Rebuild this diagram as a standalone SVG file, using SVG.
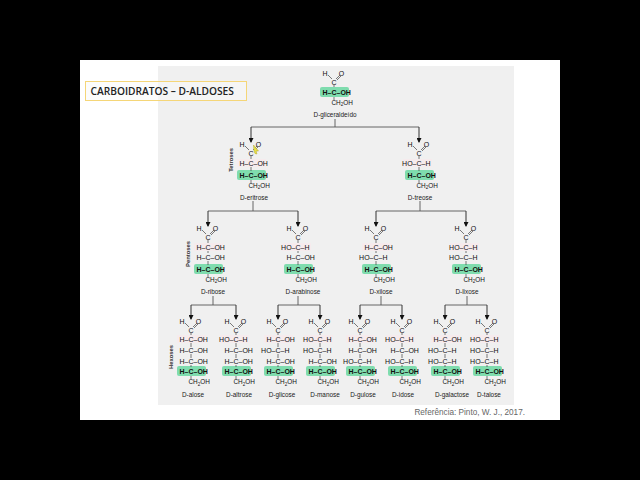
<svg xmlns="http://www.w3.org/2000/svg" width="640" height="480" viewBox="0 0 640 480">
<style>
text{font-family:"Liberation Sans",Arial,sans-serif;font-size:7px;fill:#111}
.b{font-weight:700;fill:#111}
.m{text-anchor:middle}
.n{font-size:6.400px;text-anchor:middle;fill:#222}
.s{font-size:6.400px}
.sub{font-size:4.500px}
.g{fill:#7fdcae}
.p{fill:#f6ebed}
.sk{fill:none;stroke:#444;stroke-width:.7}
.c{fill:none;stroke:#555;stroke-width:.9}
.a{fill:none;stroke:#333;stroke-width:1;marker-end:url(#ar)}
.v{font-size:5.800px;font-weight:700;text-anchor:middle;fill:#333}
</style>
<defs>
<marker id="ar" markerWidth="5" markerHeight="5" refX="4" refY="2.500" orient="auto" markerUnits="userSpaceOnUse"><path d="M0 0L5 2.500L0 5Z" fill="#111"/></marker>
<path id="h" class="sk" d="M-6 2L-2 6M2 6L6 2M3 7L7 3M0 12V15"/>
</defs>
<rect width="640" height="480" fill="#000"/>
<rect x="80" y="60" width="480" height="360" fill="#fff"/>
<rect x="158" y="66" width="356" height="339" fill="#f0f0f0"/>
<g id="titulo"><rect x="85.500" y="81.500" width="161" height="19" fill="#fafafa" fill-opacity=".5" stroke="#f5d678" stroke-width="1"/><text x="90.500" y="94.500" style="font-family:'Open Sans',sans-serif;font-size:10.200px;font-weight:600;fill:#222">CARBOIDRATOS – D-ALDOSES</text></g>
<g id="conectores">
<path class="c" d="M335 119V127M251 127H419M253 201V211M208 211H298M420 201V211M376 211H466M213 296V305M191 305H236M298 296V305M278 305H320M381 296V305M360 305H402M467 296V305M445 305H487"/>
<path class="a" d="M251 127V142"/><path class="a" d="M419 127V142"/><path class="a" d="M208 211V226"/><path class="a" d="M298 211V226"/><path class="a" d="M376 211V226"/><path class="a" d="M466 211V226"/><path class="a" d="M191 305V319"/><path class="a" d="M236 305V319"/><path class="a" d="M278 305V319"/><path class="a" d="M320 305V319"/><path class="a" d="M360 305V319"/><path class="a" d="M402 305V319"/><path class="a" d="M445 305V319"/><path class="a" d="M487 305V319"/>
</g>
<text class="v" transform="translate(233 160) rotate(-90)">Tetroses</text>
<text class="v" transform="translate(190 254) rotate(-90)">Pentoses</text>
<text class="v" transform="translate(173 357) rotate(-90)">Hexoses</text>

<g id="gliceraldeido" transform="translate(334 73)"><use href="#h"/><text x="-9" y="2.500" class="m">H</text><text x="7.500" y="2.500" class="m">O</text><text y="11.500" class="m">C</text><rect x="-14" y="14" width="29" height="10" rx="2" class="g"/><text x="-11.500" y="21.500" class="b">H–C–OH</text><path class="sk" d="M0 24V27"/><text x="-2.500" y="31.500" class="s">CH<tspan class="sub" dy="1.500">2</tspan><tspan dy="-1.500">OH</tspan></text><text x="1" y="43.500" class="n">D-gliceraldeído</text></g>

<g id="eritrose" transform="translate(251 144)"><use href="#h"/><text x="-9" y="2.500" class="m">H</text><text x="7.500" y="2.500" class="m">O</text><text y="11.500" class="m">C</text><rect x="-14" y="15" width="29" height="8" class="p"/><text x="-11.500" y="21.500">H–C–OH</text><rect x="-14" y="26" width="29" height="10" rx="2" class="g"/><text x="-11.500" y="33.500" class="b">H–C–OH</text><path class="sk" d="M0 23V27M0 36V39"/><text x="-2.500" y="43.500" class="s">CH<tspan class="sub" dy="1.500">2</tspan><tspan dy="-1.500">OH</tspan></text><text x="3" y="55.500" class="n">D-eritrose</text></g>
<g id="treose" transform="translate(419 144)"><use href="#h"/><text x="-9" y="2.500" class="m">H</text><text x="7.500" y="2.500" class="m">O</text><text y="11.500" class="m">C</text><rect x="-16" y="15" width="29" height="8" class="p"/><text x="-16.900" y="21.500">HO–C–H</text><rect x="-14" y="26" width="29" height="10" rx="2" class="g"/><text x="-11.500" y="33.500" class="b">H–C–OH</text><path class="sk" d="M0 23V27M0 36V39"/><text x="-2.500" y="43.500" class="s">CH<tspan class="sub" dy="1.500">2</tspan><tspan dy="-1.500">OH</tspan></text><text x="1" y="55.500" class="n">D-treose</text></g>

<g id="ribose" transform="translate(208 228)"><use href="#h"/><text x="-9" y="2.500" class="m">H</text><text x="7.500" y="2.500" class="m">O</text><text y="11.500" class="m">C</text><rect x="-14" y="15" width="29" height="8" class="p"/><text x="-11.500" y="21.500">H–C–OH</text><text x="-11.500" y="31.500">H–C–OH</text><rect x="-14" y="36" width="29" height="10" rx="2" class="g"/><text x="-11.500" y="43.500" class="b">H–C–OH</text><path class="sk" d="M0 23V25M0 33V37M0 46V49"/><text x="-2.500" y="53.500" class="s">CH<tspan class="sub" dy="1.500">2</tspan><tspan dy="-1.500">OH</tspan></text><text x="5" y="65.500" class="n">D-ribose</text></g>
<g id="arabinose" transform="translate(298 228)"><use href="#h"/><text x="-9" y="2.500" class="m">H</text><text x="7.500" y="2.500" class="m">O</text><text y="11.500" class="m">C</text><rect x="-16" y="15" width="29" height="8" class="p"/><text x="-16.900" y="21.500">HO–C–H</text><text x="-11.500" y="31.500">H–C–OH</text><rect x="-14" y="36" width="29" height="10" rx="2" class="g"/><text x="-11.500" y="43.500" class="b">H–C–OH</text><path class="sk" d="M0 23V25M0 33V37M0 46V49"/><text x="-2.500" y="53.500" class="s">CH<tspan class="sub" dy="1.500">2</tspan><tspan dy="-1.500">OH</tspan></text><text x="5" y="65.500" class="n">D-arabinose</text></g>
<g id="xilose" transform="translate(376 228)"><use href="#h"/><text x="-9" y="2.500" class="m">H</text><text x="7.500" y="2.500" class="m">O</text><text y="11.500" class="m">C</text><rect x="-14" y="15" width="29" height="8" class="p"/><text x="-11.500" y="21.500">H–C–OH</text><text x="-16.900" y="31.500">HO–C–H</text><rect x="-14" y="36" width="29" height="10" rx="2" class="g"/><text x="-11.500" y="43.500" class="b">H–C–OH</text><path class="sk" d="M0 23V25M0 33V37M0 46V49"/><text x="-2.500" y="53.500" class="s">CH<tspan class="sub" dy="1.500">2</tspan><tspan dy="-1.500">OH</tspan></text><text x="5" y="65.500" class="n">D-xilose</text></g>
<g id="lixose" transform="translate(466 228)"><use href="#h"/><text x="-9" y="2.500" class="m">H</text><text x="7.500" y="2.500" class="m">O</text><text y="11.500" class="m">C</text><rect x="-16" y="15" width="29" height="8" class="p"/><text x="-16.900" y="21.500">HO–C–H</text><text x="-16.900" y="31.500">HO–C–H</text><rect x="-14" y="36" width="29" height="10" rx="2" class="g"/><text x="-11.500" y="43.500" class="b">H–C–OH</text><path class="sk" d="M0 23V25M0 33V37M0 46V49"/><text x="-2.500" y="53.500" class="s">CH<tspan class="sub" dy="1.500">2</tspan><tspan dy="-1.500">OH</tspan></text><text x="1" y="65.500" class="n">D-lixose</text></g>

<g id="alose" transform="translate(191 321)"><use href="#h"/><text x="-9" y="2.500" class="m">H</text><text x="7.500" y="2.500" class="m">O</text><text y="11.500" class="m">C</text><rect x="-14" y="14" width="29" height="8" class="p"/><text x="-11.500" y="20.500">H–C–OH</text><text x="-11.500" y="31.500">H–C–OH</text><text x="-11.500" y="42.500">H–C–OH</text><rect x="-14" y="45" width="29" height="10" rx="2" class="g"/><text x="-11.500" y="52.500" class="b">H–C–OH</text><path class="sk" d="M0 22V26M0 33V37M0 44V46M0 55V58"/><text x="-2.500" y="63" class="s">CH<tspan class="sub" dy="1.500">2</tspan><tspan dy="-1.500">OH</tspan></text><text x="2" y="76" class="n">D-alose</text></g>
<g id="altrose" transform="translate(236 321)"><use href="#h"/><text x="-9" y="2.500" class="m">H</text><text x="7.500" y="2.500" class="m">O</text><text y="11.500" class="m">C</text><rect x="-16" y="14" width="29" height="8" class="p"/><text x="-16.900" y="20.500">HO–C–H</text><text x="-11.500" y="31.500">H–C–OH</text><text x="-11.500" y="42.500">H–C–OH</text><rect x="-14" y="45" width="29" height="10" rx="2" class="g"/><text x="-11.500" y="52.500" class="b">H–C–OH</text><path class="sk" d="M0 22V26M0 33V37M0 44V46M0 55V58"/><text x="-2.500" y="63" class="s">CH<tspan class="sub" dy="1.500">2</tspan><tspan dy="-1.500">OH</tspan></text><text x="3" y="76" class="n">D-altrose</text></g>
<g id="glicose" transform="translate(278 321)"><use href="#h"/><text x="-9" y="2.500" class="m">H</text><text x="7.500" y="2.500" class="m">O</text><text y="11.500" class="m">C</text><rect x="-14" y="14" width="29" height="8" class="p"/><text x="-11.500" y="20.500">H–C–OH</text><text x="-16.900" y="31.500">HO–C–H</text><text x="-11.500" y="42.500">H–C–OH</text><rect x="-14" y="45" width="29" height="10" rx="2" class="g"/><text x="-11.500" y="52.500" class="b">H–C–OH</text><path class="sk" d="M0 22V26M0 33V37M0 44V46M0 55V58"/><text x="-2.500" y="63" class="s">CH<tspan class="sub" dy="1.500">2</tspan><tspan dy="-1.500">OH</tspan></text><text x="4" y="76" class="n">D-glicose</text></g>
<g id="manose" transform="translate(320 321)"><use href="#h"/><text x="-9" y="2.500" class="m">H</text><text x="7.500" y="2.500" class="m">O</text><text y="11.500" class="m">C</text><rect x="-16" y="14" width="29" height="8" class="p"/><text x="-16.900" y="20.500">HO–C–H</text><text x="-16.900" y="31.500">HO–C–H</text><text x="-11.500" y="42.500">H–C–OH</text><rect x="-14" y="45" width="29" height="10" rx="2" class="g"/><text x="-11.500" y="52.500" class="b">H–C–OH</text><path class="sk" d="M0 22V26M0 33V37M0 44V46M0 55V58"/><text x="-2.500" y="63" class="s">CH<tspan class="sub" dy="1.500">2</tspan><tspan dy="-1.500">OH</tspan></text><text x="5" y="76" class="n">D-manose</text></g>
<g id="gulose" transform="translate(360 321)"><use href="#h"/><text x="-9" y="2.500" class="m">H</text><text x="7.500" y="2.500" class="m">O</text><text y="11.500" class="m">C</text><rect x="-14" y="14" width="29" height="8" class="p"/><text x="-11.500" y="20.500">H–C–OH</text><text x="-11.500" y="31.500">H–C–OH</text><text x="-16.900" y="42.500">HO–C–H</text><rect x="-14" y="45" width="29" height="10" rx="2" class="g"/><text x="-11.500" y="52.500" class="b">H–C–OH</text><path class="sk" d="M0 22V26M0 33V37M0 44V46M0 55V58"/><text x="-2.500" y="63" class="s">CH<tspan class="sub" dy="1.500">2</tspan><tspan dy="-1.500">OH</tspan></text><text x="3" y="76" class="n">D-gulose</text></g>
<g id="idose" transform="translate(402 321)"><use href="#h"/><text x="-9" y="2.500" class="m">H</text><text x="7.500" y="2.500" class="m">O</text><text y="11.500" class="m">C</text><rect x="-16" y="14" width="29" height="8" class="p"/><text x="-16.900" y="20.500">HO–C–H</text><text x="-11.500" y="31.500">H–C–OH</text><text x="-16.900" y="42.500">HO–C–H</text><rect x="-14" y="45" width="29" height="10" rx="2" class="g"/><text x="-11.500" y="52.500" class="b">H–C–OH</text><path class="sk" d="M0 22V26M0 33V37M0 44V46M0 55V58"/><text x="-2.500" y="63" class="s">CH<tspan class="sub" dy="1.500">2</tspan><tspan dy="-1.500">OH</tspan></text><text x="1" y="76" class="n">D-idose</text></g>
<g id="galactose" transform="translate(445 321)"><use href="#h"/><text x="-9" y="2.500" class="m">H</text><text x="7.500" y="2.500" class="m">O</text><text y="11.500" class="m">C</text><rect x="-14" y="14" width="29" height="8" class="p"/><text x="-11.500" y="20.500">H–C–OH</text><text x="-16.900" y="31.500">HO–C–H</text><text x="-16.900" y="42.500">HO–C–H</text><rect x="-14" y="45" width="29" height="10" rx="2" class="g"/><text x="-11.500" y="52.500" class="b">H–C–OH</text><path class="sk" d="M0 22V26M0 33V37M0 44V46M0 55V58"/><text x="-2.500" y="63" class="s">CH<tspan class="sub" dy="1.500">2</tspan><tspan dy="-1.500">OH</tspan></text><text x="7" y="76" class="n">D-galactose</text></g>
<g id="talose" transform="translate(487 321)"><use href="#h"/><text x="-9" y="2.500" class="m">H</text><text x="7.500" y="2.500" class="m">O</text><text y="11.500" class="m">C</text><rect x="-16" y="14" width="29" height="8" class="p"/><text x="-16.900" y="20.500">HO–C–H</text><text x="-16.900" y="31.500">HO–C–H</text><text x="-16.900" y="42.500">HO–C–H</text><rect x="-14" y="45" width="29" height="10" rx="2" class="g"/><text x="-11.500" y="52.500" class="b">H–C–OH</text><path class="sk" d="M0 22V26M0 33V37M0 44V46M0 55V58"/><text x="-2.500" y="63" class="s">CH<tspan class="sub" dy="1.500">2</tspan><tspan dy="-1.500">OH</tspan></text><text x="2" y="76" class="n">D-talose</text></g>

<text x="525" y="415" style="font-size:8.200px;text-anchor:end;fill:#666">Referência: Pinto, W. J., 2017.</text>
<polygon points="253.500,145 258.500,151 256,151 257,154 255,153.500 254,151" fill="#e8e04a" stroke="#b5a92a" stroke-width=".5"/>
</svg>
